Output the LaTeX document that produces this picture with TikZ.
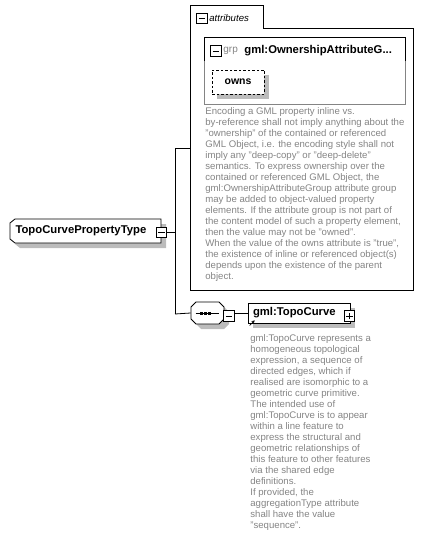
\documentclass[tikz,border=0pt]{standalone}
\usepackage{fontspec}
\setmainfont{Liberation Sans}
\usetikzlibrary{calc,arrows.meta,positioning}
\definecolor{xsgray}{RGB}{132,132,132}
\definecolor{xsshadow}{RGB}{188,188,188}

\begin{document}
\begin{tikzpicture}[x=1pt,y=-1pt,line width=0.8pt,
  shadowfill/.style={fill=xsshadow,draw=none,shift={(5,5)}},
  elembox/.style={draw,fill=white,inner sep=0pt,font=\fontsize{11.3}{13}\selectfont\bfseries},
  togglebox/.style={draw,fill=white,minimum size=10.5pt,inner sep=0pt,
    path picture={\draw ([xshift=2.2pt]path picture bounding box.west) -- ([xshift=-2.2pt]path picture bounding box.east);}},
  plusbox/.style={draw,fill=white,minimum size=10.5pt,inner sep=0pt,
    path picture={\draw ([xshift=2.2pt]path picture bounding box.west) -- ([xshift=-2.2pt]path picture bounding box.east);
      \draw ([yshift=2.2pt]path picture bounding box.south) -- ([yshift=-2.2pt]path picture bounding box.north);}},
  docnote/.style={anchor=north west,inner sep=0pt,align=left,text=xsgray,
    font=\fontsize{9.6}{11}\selectfont}]
  \useasboundingbox (0,0) rectangle (424,537);
  % attributes
  \draw (190,290) -- (190,5) -- (263,5) -- (263,28) -- (413,28) -- (413,290) -- cycle;
  \node[togglebox] (attrmin) at (202,18.5) {};
  \node[anchor=west,inner sep=0pt,font=\fontsize{9.6}{12}\selectfont\itshape] (attrlbl) at (209,18) {attributes};
  \draw[xsgray] (204,37) rectangle (405,104);
  \draw (204,61) -- (204,37) -- (405,37) -- (405,61);
  \node[togglebox] (grpmin) at (216,51) {};
  \node[anchor=west,inner sep=0pt,text=xsgray,font=\fontsize{10}{12}\selectfont] (grplbl) at (223,51) {grp};
  \node[anchor=west,inner sep=0pt,font=\fontsize{11.3}{13}\selectfont\bfseries] (grpname) at (244,51) {gml:OwnershipAttributeG...};
  \fill[shadowfill] (212,70) rectangle (264,94);
  \node[elembox,dashed,dash pattern=on 2.5pt off 2pt,minimum width=52pt,minimum height=24pt,
    font=\fontsize{10.5}{12}\selectfont\bfseries] (owns) at (238,82) {owns};
  \node[docnote] (attrdoc) at (205,107) {Encoding a GML property inline vs.\\
    by-reference shall not imply anything about the\\
    "ownership" of the contained or referenced\\
    GML Object, i.e. the encoding style shall not\\
    imply any "deep-copy" or "deep-delete"\\
    semantics. To express ownership over the\\
    contained or referenced GML Object, the\\
    gml:OwnershipAttributeGroup attribute group\\
    may be added to object-valued property\\
    elements. If the attribute group is not part of\\
    the content model of such a property element,\\
    then the value may not be "owned".\\
    When the value of the owns attribute is "true",\\
    the existence of inline or referenced object(s)\\
    depends upon the existence of the parent\\
    object.};
  % main type
  \fill[shadowfill] (15,219) -- (161,219) -- (161,243) -- (15,243) -- (10,239) -- (10,223) -- cycle;
  \draw[fill=white] (15,219) -- (161,219) -- (161,243) -- (15,243) -- (10,239) -- (10,223) -- cycle;
  \node[inner sep=0pt,font=\fontsize{11.3}{13}\selectfont\bfseries,text width=140pt,align=left,
    minimum width=151pt,minimum height=24pt] (type) at (85.5,231) {TopoCurvePropertyType};
  \node[togglebox] (typemin) at (161.5,232.5) {};
  \coordinate (trunkT) at (175,148);
  \coordinate (trunkM) at (175,232.5);
  \coordinate (trunkB) at (175,314);
  \coordinate (attrW) at (190,148);
  \draw (typemin.east) -- (trunkM);
  \draw (attrW) -- (trunkT) -- (trunkB);
  % sequence
  \fill[shadowfill] (196,302) -- (219,302) -- (224,307) -- (224,319) -- (219,324) -- (196,324) -- (191,319) -- (191,307) -- cycle;
  \draw[fill=white] (196,302) -- (219,302) -- (224,307) -- (224,319) -- (219,324) -- (196,324) -- (191,319) -- (191,307) -- cycle;
  \node[minimum width=33pt,minimum height=22pt,inner sep=0pt] (seq) at (207.5,313) {};
  \draw ([xshift=-12pt]seq.center) -- ([xshift=11pt]seq.center);
  \foreach \dx in {-6.5,-2.5,1.5}
    \fill ([xshift=\dx pt]seq.center) ++(-1.5,-1.5) rectangle ++(3,3);
  \node[togglebox] (seqmin) at (229,316) {};
  \draw (trunkB) -- (seq.west);
  \draw (seq.east) -- (seqmin.west |- seq.east);
  % element
  \fill[shadowfill] (248,303) rectangle (350,323);
  \node[elembox,minimum width=102pt,minimum height=20pt,text width=92pt,align=left] (topo) at (299,313) {gml:TopoCurve};
  \node[plusbox] (topoplus) at (349.5,316) {};
  \draw (seqmin.east |- topo.west) -- (topo.west);
  \draw[-{Stealth[length=3pt,width=3.5pt]},line width=0.7pt] ($(topo.south west)+(2,2)$) -- ++(5,-5);
  \node[docnote] (topodoc) at (250,334) {gml:TopoCurve represents a\\
    homogeneous topological\\
    expression, a sequence of\\
    directed edges, which if\\
    realised are isomorphic to a\\
    geometric curve primitive.\\
    The intended use of\\
    gml:TopoCurve is to appear\\
    within a line feature to\\
    express the structural and\\
    geometric relationships of\\
    this feature to other features\\
    via the shared edge\\
    definitions.\\
    If provided, the\\
    aggregationType attribute\\
    shall have the value\\
    "sequence".};
\end{tikzpicture}
\end{document}
